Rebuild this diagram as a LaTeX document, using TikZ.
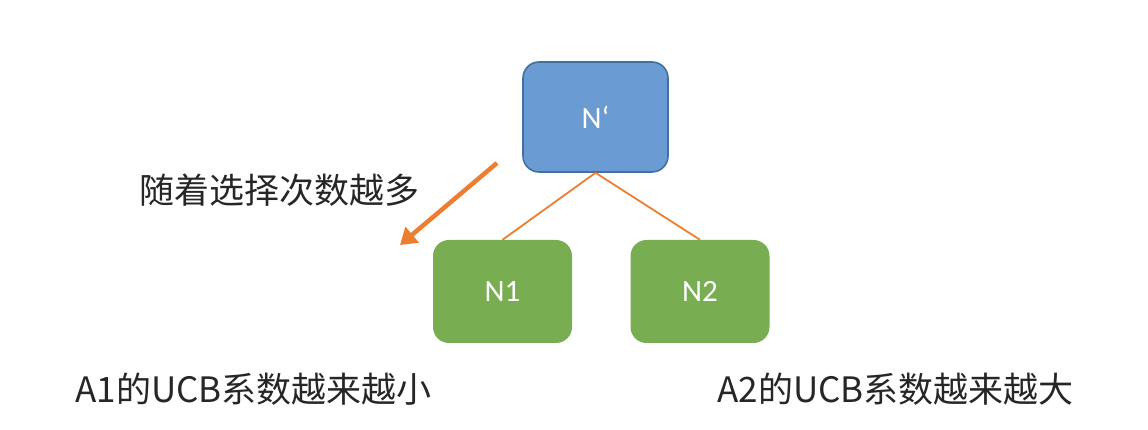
\documentclass[tikz,border=0pt]{standalone}
\usepackage{fontspec}
\setmainfont{Noto Sans CJK SC}
\newfontfamily\boxfont{Carlito}
\usetikzlibrary{positioning, arrows.meta}
\definecolor{boxblue}{HTML}{6A9BD2}
\definecolor{boxblueline}{HTML}{41719C}
\definecolor{boxgreen}{HTML}{79AD51}
\definecolor{linkorange}{HTML}{ED7D31}
\definecolor{txtgray}{HTML}{262626}
\tikzset{
    treebox/.style={rounded corners=16pt, minimum width=#1, text=white, font=\boxfont\fontsize{31}{34}\selectfont},
    topbox/.style={treebox=145pt, minimum height=110pt, fill=boxblue, draw=boxblueline, line width=1.6pt},
    leafbox/.style={treebox=139pt, minimum height=103pt, fill=boxgreen},
    note/.style={text=txtgray, font=\fontsize{35}{40}\selectfont, inner sep=0pt}
}
\begin{document}
\begin{tikzpicture}[x=1pt, y=1pt]
            \useasboundingbox (0,0) rectangle (1148,430);
            \node[topbox] (top) at (595.5,313) {N‘};
            \node[leafbox] (n1) at (502.5,138.5) {N1};
            \node[leafbox] (n2) at (700,138.5) {N2};

            \draw[linkorange, line width=1.8pt] (top.south) -- (n1.north);
            \draw[linkorange, line width=1.8pt] (top.south) -- (n2.north);

            \coordinate (arrfrom) at (497,267);
            \coordinate (arrto) at (400,185);
            \draw[linkorange, line width=4.5pt, -{Triangle[length=16pt, width=20pt]}] (arrfrom) -- (arrto);

            \node[note] (more) at (279,240) {随着选择次数越多};
            \node[note] (small) at (253.5,41) {A1的UCB系数越来越小};
            \node[note] (big) at (895.5,41) {A2的UCB系数越来越大};
        \end{tikzpicture}
\end{document}
